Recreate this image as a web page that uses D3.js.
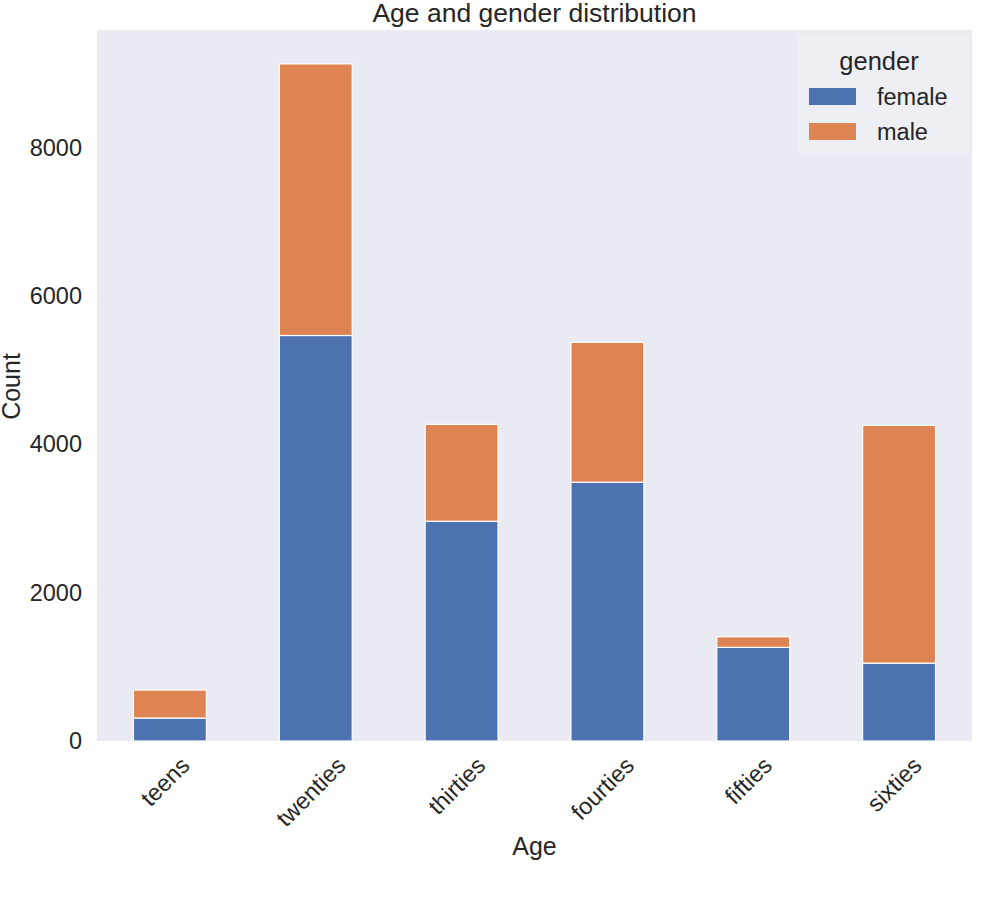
<!DOCTYPE html>
<html>
<head>
<meta charset="utf-8">
<script src="https://cdn.jsdelivr.net/npm/d3@7"></script>
<style>
  body { margin: 0; background: #fff; }
  text { font-family: "Liberation Sans", Arial, sans-serif; fill: #262626; }
</style>
</head>
<body>
<div id="chart"></div>
<script>
const ages = ['teens', 'twenties', 'thirties', 'fourties', 'fifties', 'sixties'];
const female = [310, 5468, 2963, 3490, 1262, 1050];
const male = [377, 3663, 1306, 1886, 143, 3206];
const genders = ['female', 'male'];
const yTicks = [0, 2000, 4000, 6000, 8000];

const w = 1000, h = 900;
const margin = { left: 97, right: 28, top: 30, bottom: 159 };
const colors = { female: '#4C72B0', male: '#DD8452' };
const tickFont = 23.5;

const rows = ages.map((a, i) => ({ age: a, female: female[i], male: male[i] }));
const stack = d3.stack().keys(genders)(rows);

const svg = d3.select('#chart')
    .append('svg')
    .attr('width', w)
    .attr('height', h);

const plotW = w - margin.left - margin.right;
const plotH = h - margin.top - margin.bottom;

const g = svg.append('g')
    .attr('transform', `translate(${margin.left}, ${margin.top})`);

g.append('rect')
    .attr('width', plotW)
    .attr('height', plotH)
    .attr('fill', '#EAEAF2');

// pandas style: bar width 0.5 inside unit slots
const scaleX = d3.scaleBand()
    .domain(ages)
    .range([0, plotW])
    .paddingInner(0.5)
    .paddingOuter(0.25);

const maxTotal = d3.max(rows, (d) => d.female + d.male);
const scaleY = d3.scaleLinear()
    .domain([0, maxTotal * 1.05])
    .range([plotH, 0]);

g.selectAll('g.layer')
    .data(stack)
    .enter()
    .append('g')
        .attr('class', 'layer')
        .attr('fill', (d) => colors[d.key])
    .selectAll('rect')
    .data((d) => d)
    .enter()
    .append('rect')
        .attr('x', (d) => scaleX(d.data.age))
        .attr('width', scaleX.bandwidth())
        .attr('y', (d) => scaleY(d[1]))
        .attr('height', (d) => scaleY(d[0]) - scaleY(d[1]))
        .attr('stroke', '#fff')
        .attr('stroke-width', 1.2);

const yAxis = d3.axisLeft(scaleY)
    .tickValues(yTicks)
    .tickFormat(d3.format('d'))
    .tickSize(0)
    .tickPadding(15);

g.append('g')
    .call(yAxis)
    .call((a) => a.select('.domain').remove())
    .selectAll('text')
        .style('font-size', tickFont + 'px');

const xAxis = d3.axisBottom(scaleX).tickSize(0).tickPadding(0);

// rotated labels: box centred on the tick, top of box just under the axis
g.append('g')
    .attr('transform', `translate(0, ${plotH})`)
    .call(xAxis)
    .call((a) => a.select('.domain').remove())
    .selectAll('text')
        .style('font-size', tickFont + 'px')
        .attr('text-anchor', 'middle')
        .attr('y', 0)
        .attr('dy', '0.35em')
        .attr('transform', function () {
            const len = this.getComputedTextLength();
            const boxH = (len + tickFont * 0.75) * Math.SQRT1_2;
            return `translate(-5, ${14 + boxH / 2}) rotate(-45)`;
        });

svg.append('text')
    .attr('x', margin.left + plotW / 2)
    .attr('y', 22)
    .attr('text-anchor', 'middle')
    .style('font-size', '26.5px')
    .text('Age and gender distribution');

svg.append('text')
    .attr('x', margin.left + plotW / 2)
    .attr('y', 855)
    .attr('text-anchor', 'middle')
    .style('font-size', '25px')
    .text('Age');

svg.append('text')
    .attr('transform', `translate(20, ${margin.top + plotH / 2 + 1}) rotate(-90)`)
    .attr('text-anchor', 'middle')
    .style('font-size', '25px')
    .text('Count');

// legend
const legend = svg.append('g')
    .attr('transform', 'translate(798, 34)');

legend.append('rect')
    .attr('width', 172)
    .attr('height', 120)
    .attr('rx', 4)
    .attr('fill', '#EEEEF5')
    .attr('opacity', 0.9);

legend.append('text')
    .attr('x', 81)
    .attr('y', 36)
    .attr('text-anchor', 'middle')
    .style('font-size', '25.5px')
    .text('gender');

const items = legend.selectAll('g.item')
    .data(genders)
    .enter()
    .append('g')
        .attr('class', 'item')
        .attr('transform', (d, i) => `translate(11, ${54 + i * 35})`);

items.append('rect')
    .attr('width', 47)
    .attr('height', 17)
    .attr('fill', (d) => colors[d]);

items.append('text')
    .attr('x', 68)
    .attr('y', 17)
    .style('font-size', tickFont + 'px')
    .text((d) => d);
</script>
</body>
</html>
